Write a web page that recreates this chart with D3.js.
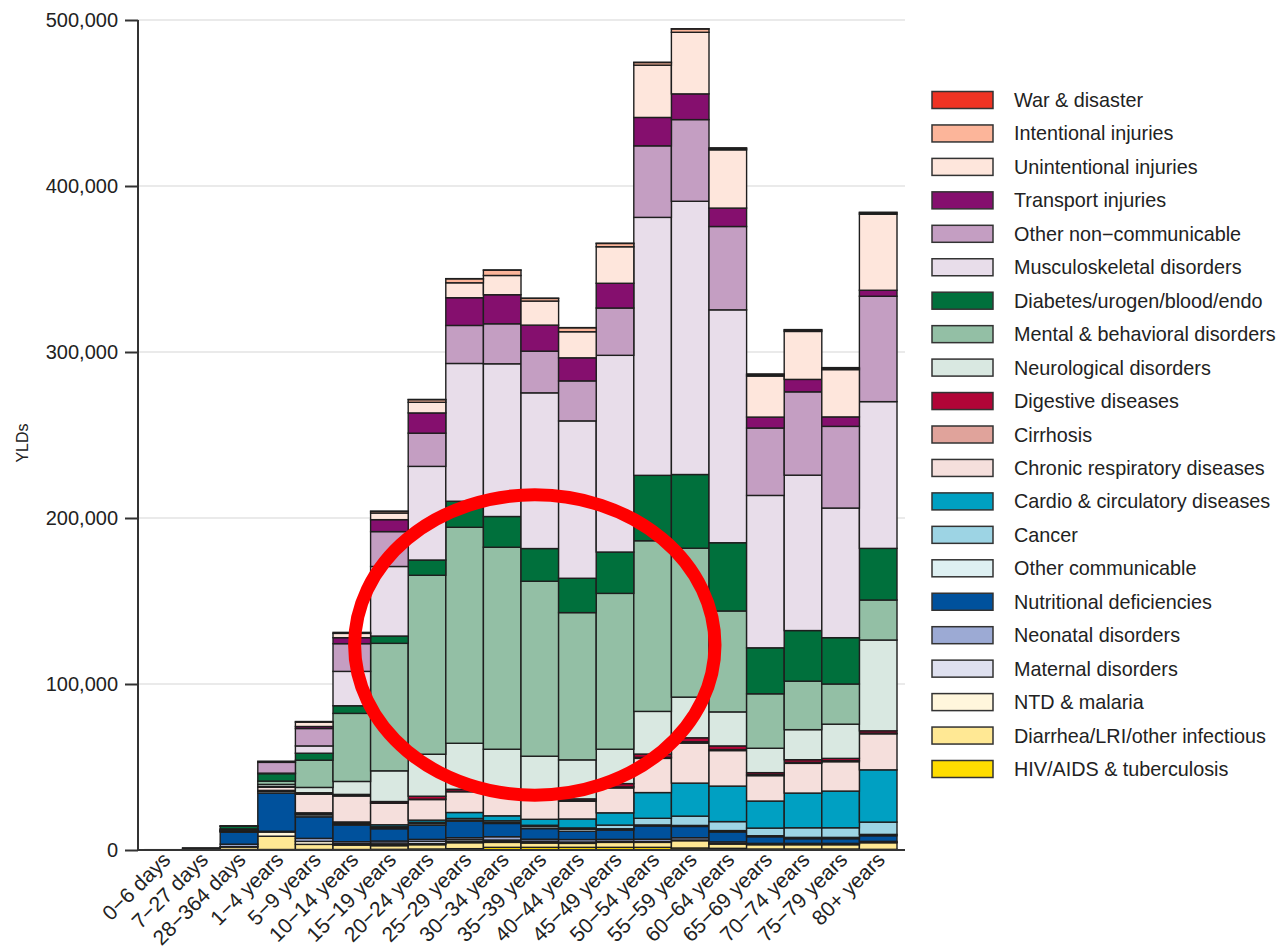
<!DOCTYPE html>
<html>
<head>
<meta charset="utf-8">
<script src="https://cdnjs.cloudflare.com/ajax/libs/d3/7.8.5/d3.min.js"></script>
<style>
  html, body { margin: 0; padding: 0; background: #ffffff; }
  svg { display: block; font-family: "Liberation Sans", Arial, sans-serif; }
</style>
</head>
<body>
<svg id="chart" width="1282" height="948"></svg>
<script>
// ---------------- DATA (values in thousands of YLDs) ----------------
const categories = ["0\u22126 days","7\u221227 days","28\u2212364 days","1\u22124 years","5\u22129 years",
  "10\u221214 years","15\u221219 years","20\u221224 years","25\u221229 years","30\u221234 years",
  "35\u221239 years","40\u221244 years","45\u221249 years","50\u221254 years","55\u221259 years",
  "60\u221264 years","65\u221269 years","70\u221274 years","75\u221279 years","80+ years"];

// series listed in legend order (top of legend = top of stack)
const seriesNames = ["War & disaster","Intentional injuries","Unintentional injuries","Transport injuries",
  "Other non\u2212communicable","Musculoskeletal disorders","Diabetes/urogen/blood/endo",
  "Mental & behavioral disorders","Neurological disorders","Digestive diseases","Cirrhosis",
  "Chronic respiratory diseases","Cardio & circulatory diseases","Cancer","Other communicable",
  "Nutritional deficiencies","Neonatal disorders","Maternal disorders","NTD & malaria",
  "Diarrhea/LRI/other infectious","HIV/AIDS & tuberculosis"];

const seriesColors = ["#EF3323","#FCB59A","#FEE6DC","#850F6E","#C49EC2","#E8DDEA","#00703C",
  "#93BFA5","#D9E8E1","#B10537","#E0A39B","#F5DFDC","#00A0C2","#9DD4E4","#DEF0F2",
  "#00519C","#9CAAD4","#DEE0EF","#FFF6DC","#FFE894","#FFDD00"];

const war          = [0,0,0,0,0,0,0.1,0.1,0.1,0.1,0.1,0.1,0.1,0.1,0.1,0.4,0.5,0.3,0.4,0.4];
const intentional  = [0,0,0,0,0.4,0.6,1.0,1.6,2.4,3.2,1.6,2.4,2.0,1.6,2.0,0.8,0.8,0.8,0.8,0.8];
const unintentional= [0,0,0,0.5,2.6,2.6,4,6.4,9,11.6,14.5,15.7,22,31.5,37.1,35.1,24.7,28.9,28.5,45.8];
const transport    = [0,0,0,0.2,1.2,3.6,7.2,12.2,16.7,17.5,15.7,13.9,14.9,17.1,15.5,11.1,6.6,7.5,5.7,3.6];
const otherNCD     = [0,0,0.2,6.5,10.5,16.7,21,20,22.9,24.1,25.1,24.1,28.5,43.1,49.2,50.2,40.6,50.2,49.2,63.5];
const musculo      = [0,0,0.1,0.3,4.4,20.7,41.9,56.4,83,92,93.8,94.8,118.5,155.4,164.6,140.3,91.8,93.6,78.1,88.4];
const diabetes     = [0,0,1.6,4.5,4.2,4.6,4.4,9.2,15.7,18.5,19.7,20.7,24.9,39.4,44.4,41.1,27.7,30.5,27.9,31.1];
const mental       = [0,0,0.3,2.0,16.4,41,76.8,107.8,130.1,121.7,105.4,88.7,93.9,102.8,89.7,60.8,32.8,29.2,24.2,24.1];
const neuro        = [0,0,0.5,1.3,3.2,7.8,18.5,25.3,27.7,24.7,22.7,23.5,20.7,25.7,24.5,20.5,14.7,18.1,20.6,54.7];
const digestive    = [0,0,0.1,0.3,0.7,0.8,0.9,1.8,1.2,1.4,1.2,1.0,2.0,2.0,2.4,2.2,1.2,1.6,1.4,1.4];
const cirrhosis    = [0,0,0,0,0.1,0.1,0.1,0.2,0.3,0.3,0.4,0.4,0.6,0.6,0.8,0.6,0.6,0.6,0.6,0.4];
const chronicResp  = [0,0,0.3,2.0,11.3,15.7,13,12.4,12.5,13.7,13.7,10.7,15,20.6,24.1,21.4,15.3,17.9,17.7,21.7];
const cardio       = [0,0,0.2,0.3,0.6,0.6,1.2,1.3,3.6,3,3.6,5.4,7.4,15.5,19.9,21.4,16.3,20.9,22.1,31.5];
const cancer       = [0,0,0.1,0.3,0.6,0.6,0.6,0.8,1.0,1.0,0.8,0.8,2.2,4,5.6,5.4,4.6,5.8,5.8,7.4];
const otherComm    = [0,0.1,0.5,1.0,1.2,0.7,0.6,1.0,0.6,0.6,1.2,1.2,0.8,0.6,0.6,0.8,0.6,0.8,0.8,0.8];
const nutritional  = [0,0.2,7.2,23,13,10,7.4,8.5,10,8,6.4,5,5.6,8,6.8,6,4,2.8,2.8,3.4];
const neonatal     = [0.2,0.6,1.5,0.5,1.8,1.2,1.2,1.2,1.2,2.0,1.2,1.5,1.2,1.4,1.4,1.0,0.6,0.6,0.6,0.6];
const maternal     = [0,0,0,0,0,0.3,1.0,1.4,1.2,0.8,0.5,0.3,0.1,0,0,0,0,0,0,0];
const ntd          = [0,0,0.2,2.5,1.8,0.6,0.6,0.6,0.6,0.6,0.6,0.5,0.5,0.5,0.4,0.3,0.2,0.2,0.2,0.2];
const diarrhea     = [0,0.3,1.5,8,3.1,2.6,2.2,2.6,3.6,3,2.6,2.4,3,3,4.4,2.6,2.6,2.6,2.6,4];
const hiv          = [0,0,0.3,0.3,0.3,0.3,0.4,0.6,0.8,1.6,1.6,1.6,1.6,1.6,1.2,1.0,0.6,0.6,0.6,0.4];

const seriesValues = [war,intentional,unintentional,transport,otherNCD,musculo,diabetes,mental,neuro,
  digestive,cirrhosis,chronicResp,cardio,cancer,otherComm,nutritional,neonatal,maternal,ntd,diarrhea,hiv];

const yTicks = [0,100000,200000,300000,400000,500000];
const yLabel = "YLDs";

// ---------------- DRAWING ----------------
const svg = d3.select("#chart");
const unit = 1000;

const x = d3.scaleBand().domain(categories).range([145, 897]).paddingInner(0).paddingOuter(0);
const y = d3.scaleLinear().domain([0, 500000]).range([850, 20]);
const axisX = 138, gridEnd = 905;

// gridlines
svg.append("g").selectAll("line").data(yTicks.slice(1)).join("line")
  .attr("x1", axisX).attr("x2", gridEnd)
  .attr("y1", d => y(d)).attr("y2", d => y(d))
  .attr("stroke", "#e3e3e3").attr("stroke-width", 1.5);

// stack: bottom = last legend entry
const keys = seriesNames.slice().reverse();
const table = categories.map((c, i) => {
  const row = { cat: c };
  seriesNames.forEach((s, j) => { row[s] = seriesValues[j][i] * unit; });
  return row;
});
const stacked = d3.stack().keys(keys)(table);
const color = d3.scaleOrdinal().domain(seriesNames).range(seriesColors);

const barsG = svg.append("g");
stacked.forEach(layer => {
  barsG.append("g").attr("fill", color(layer.key))
    .selectAll("rect").data(layer.filter(d => d[1] - d[0] > 0)).join("rect")
    .attr("x", d => x(d.data.cat))
    .attr("width", x.bandwidth())
    .attr("y", d => y(d[1]))
    .attr("height", d => y(d[0]) - y(d[1]))
    .attr("stroke", "#1e1e1e").attr("stroke-width", 1.4);
});

// y axis
const yAxis = d3.axisLeft(y).tickValues(yTicks).tickFormat(d3.format(",")).tickSize(13).tickPadding(7);
const gy = svg.append("g").attr("transform", `translate(${axisX},0)`).call(yAxis);
gy.select(".domain").attr("stroke", "#333").attr("stroke-width", 2).attr("d", `M0,${y(500000)}V${y(0)}`);
gy.selectAll(".tick line").attr("stroke", "#333").attr("stroke-width", 2);
gy.selectAll(".tick text").attr("font-size", 20).attr("fill", "#222")
  .attr("font-family", "Liberation Sans, Arial, sans-serif");

// x baseline
svg.append("line").attr("x1", axisX).attr("x2", gridEnd).attr("y1", y(0)).attr("y2", y(0))
  .attr("stroke", "#333").attr("stroke-width", 2);

// x labels
svg.append("g").selectAll("text").data(categories).join("text")
  .attr("transform", d => `translate(${x(d) + x.bandwidth()/2 + 8},${y(0) + 11}) rotate(-45)`)
  .attr("text-anchor", "end")
  .attr("font-size", 21).attr("fill", "#222")
  .text(d => d);

// y label
svg.append("text").attr("transform", `translate(28,${(y(0)+y(500000))/2 + 8}) rotate(-90)`)
  .attr("text-anchor", "middle").attr("font-size", 16).attr("fill", "#222").text(yLabel);

// legend
const legend = svg.append("g");
const rowH = 33.45, legTop = 100;
seriesNames.forEach((s, i) => {
  const cy = legTop + i * rowH;
  legend.append("rect").attr("x", 932).attr("y", cy - 8.5).attr("width", 61).attr("height", 17)
    .attr("fill", seriesColors[i]).attr("stroke", "#333").attr("stroke-width", 1.5);
  legend.append("text").attr("x", 1014).attr("y", cy + 7).attr("font-size", 19.8)
    .attr("fill", "#222").text(s);
});

// red ellipse annotation (around the mental-disorder block of working-age bars)
const eLeft = x("15\u221219 years") - 16, eRight = x("55\u221259 years") + x.bandwidth() + 6;
const eTop = y(214000), eBottom = y(33000);
svg.append("ellipse")
  .attr("cx", (eLeft + eRight) / 2).attr("cy", (eTop + eBottom) / 2)
  .attr("rx", (eRight - eLeft) / 2).attr("ry", (eBottom - eTop) / 2)
  .attr("fill", "none").attr("stroke", "#FF0000").attr("stroke-width", 13);
</script>
</body>
</html>
